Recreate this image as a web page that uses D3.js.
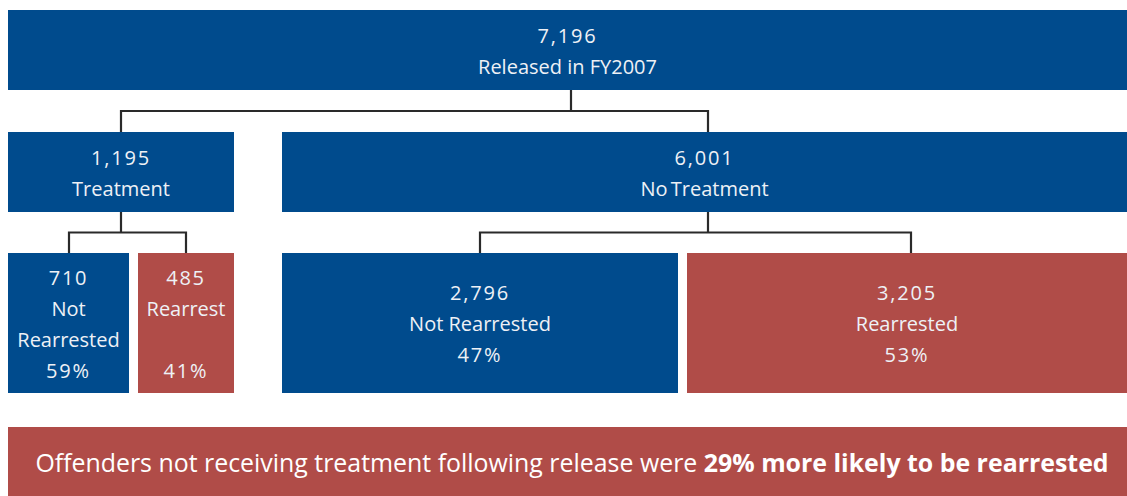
<!DOCTYPE html>
<html><head><meta charset="utf-8">
<script src="https://cdn.jsdelivr.net/npm/d3@7"></script>
<style>html,body{margin:0;padding:0;background:#fff;}svg{display:block;}</style>
</head><body>
<svg id="chart" width="1127" height="496"></svg>
<script>
// ---- data ----
const nodeIds    = ["all", "treat", "noTreat", "tNot", "tRe", "nNot", "nRe"];
const parents    = [null, "all", "all", "treat", "treat", "noTreat", "noTreat"];
const counts     = [7196, 1195, 6001, 710, 485, 2796, 3205];
const labels     = [["Released in FY2007"], ["Treatment"], ["No\u2009Treatment"], ["Not", "Rearrested"], ["Rearrest", ""], ["Not Rearrested"], ["Rearrested"]];
const percents   = [null, null, null, "59%", "41%", "47%", "53%"];
const outcome    = ["total", "total", "total", "not", "re", "not", "re"];
const bannerText = ["Offenders not receiving treatment following release were ", "29% more likely to be rearrested"];

// ---- layout (styling, not data) ----
const W = 1127, H = 496;
const xs = d3.scaleLinear().domain([0, W]).range([0, W]);
const levelY = [[10, 90], [132, 212], [253, 393]];
const boxX = {all:[8,1127], treat:[8,234], noTreat:[282,1127], tNot:[8,129], tRe:[138,234], nNot:[282,678], nRe:[687,1127]};
const anchorX = {all:571, treat:121, noTreat:708, tNot:69, tRe:186, nNot:480, nRe:911};
const colors = {total:"#004b8d", not:"#004b8d", re:"#b04c48"};
const fmt = d3.format(",");

const rows = nodeIds.map((id, i) => ({id, parentId: parents[i], count: counts[i], label: labels[i], pct: percents[i], kind: outcome[i]}));
const root = d3.stratify().id(d => d.id).parentId(d => d.parentId)(rows);

const svg = d3.select("#chart");

// connectors
const g = svg.append("g");
root.each(node => {
  if (!node.children) return;
  const py = levelY[node.depth][1];
  const cy = levelY[node.depth + 1][0];
  const midY = (py + cy) / 2;
  const px = xs(anchorX[node.id]);
  const cxs = node.children.map(c => xs(anchorX[c.id]));
  const path = d3.path();
  path.moveTo(px, py); path.lineTo(px, midY);
  path.moveTo(d3.min(cxs), cy); path.lineTo(d3.min(cxs), midY); path.lineTo(d3.max(cxs), midY); path.lineTo(d3.max(cxs), cy);
  g.append("path").attr("d", path.toString()).attr("fill", "none").attr("stroke", "#2a2a2a").attr("stroke-width", 2.2);
});

// boxes
const nodes = root.descendants();
const ng = svg.selectAll("g.node").data(nodes).join("g").attr("class", "node");
ng.append("rect")
  .attr("x", d => xs(boxX[d.id][0]))
  .attr("y", d => levelY[d.depth][0])
  .attr("width", d => xs(boxX[d.id][1]) - xs(boxX[d.id][0]))
  .attr("height", d => levelY[d.depth][1] - levelY[d.depth][0])
  .attr("fill", d => colors[d.data.kind]);

ng.each(function(d) {
  const lines = [fmt(d.data.count), ...d.data.label];
  if (d.data.pct) lines.push(d.data.pct);
  const [y0, y1] = levelY[d.depth];
  const step = 31;
  const cx = (xs(boxX[d.id][0]) + xs(boxX[d.id][1])) / 2;
  const cy = (y0 + y1) / 2;
  const start = cy - (lines.length - 1) * step / 2;
  d3.select(this).selectAll("text").data(lines).join("text")
    .attr("x", cx)
    .attr("y", (t, i) => start + i * step)
    .attr("dy", "0.42em")
    .attr("text-anchor", "middle")
    .attr("fill", "#eef1f6")
    .attr("font-family", "'Open Sans', sans-serif")
    .attr("font-size", 20)
    .attr("letter-spacing", (t) => /^[\d,%]+$/.test(t) ? 1.8 : 0)
    .text(t => t);
});

// banner
svg.append("rect").attr("x", 8).attr("y", 427).attr("width", W - 8).attr("height", H - 427).attr("fill", colors.re);
const bt = svg.append("text").attr("x", 572).attr("y", 463).attr("dy", "0.36em")
  .attr("text-anchor", "middle").attr("fill", "#ffffff")
  .attr("font-family", "'Open Sans', sans-serif").attr("font-size", 24.9);
bt.append("tspan").attr("font-weight", 400).text(bannerText[0]);
bt.append("tspan").attr("font-weight", 700).text(bannerText[1]);
</script>
</body></html>
